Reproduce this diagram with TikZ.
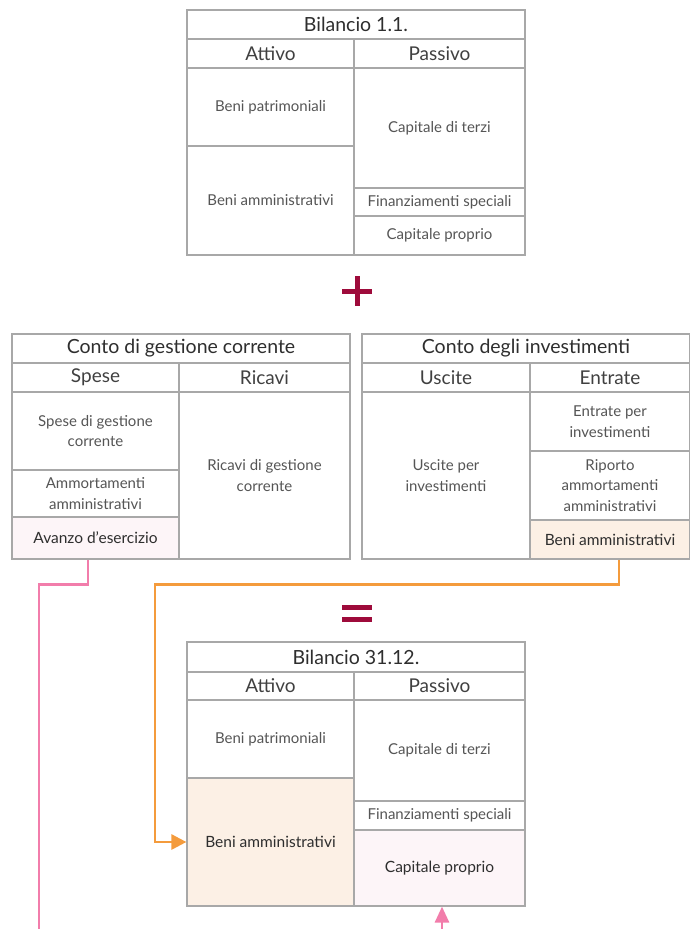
\documentclass[tikz,border=0pt]{standalone}
\usepackage{fontspec}
\setmainfont{Lato}
\usetikzlibrary{arrows.meta}
\definecolor{bordergray}{HTML}{A8A8A8}
\definecolor{txtgray}{HTML}{555555}
\definecolor{txtdark}{HTML}{2E2E2E}
\definecolor{headgray}{HTML}{404040}
\definecolor{pinkfill}{HTML}{FDF5F8}
\definecolor{orangefill}{HTML}{FCF0E5}
\definecolor{pinkline}{HTML}{F27DAB}
\definecolor{orangeline}{HTML}{F49B3C}
\definecolor{crimson}{HTML}{9E0B3B}
\tikzset{
  cell/.style={draw=bordergray, line width=1.2pt, inner sep=0pt, align=center,
    text=txtgray, font=\fontsize{15}{20.5}\selectfont},
  titlecell/.style={cell, text=txtdark, font=\fontsize{19.5}{22}\selectfont},
  headcell/.style={cell, text=headgray, font=\fontsize{19}{22}\selectfont},
  pinkcell/.style={cell, fill=pinkfill, text=txtdark, font=\fontsize{15.5}{20}\selectfont},
  orangecell/.style={cell, fill=orangefill, text=txtdark, font=\fontsize{15.5}{20}\selectfont},
  pinkconn/.style={draw=pinkline, line width=2.8pt},
  orangeconn/.style={draw=orangeline, line width=2.8pt},
  opsign/.style={draw=crimson, line width=5pt}
}
\newcommand\mkcell[7]{%
  \node[#6, minimum width={(#4-#2)*1pt}, minimum height={(#5-#3)*1pt}]
    (#1) at ({(#2+#4)/2},{(#3+#5)/2}) {#7};}
\begin{document}
\begin{tikzpicture}[x=1pt,y=-1pt]
\path[use as bounding box, clip] (0,0) rectangle (690,929);
% Bilancio 1.1.
\mkcell{ta}{187}{10}{525}{39}{titlecell}{Bilancio 1.1.}
\mkcell{tha}{187}{39}{354}{68}{headcell}{Attivo}
\mkcell{thp}{354}{39}{525}{68}{headcell}{Passivo}
\mkcell{tbp}{187}{68}{354}{146}{cell}{Beni patrimoniali}
\mkcell{tba}{187}{146}{354}{255}{cell}{Beni amministrativi}
\mkcell{tct}{354}{68}{525}{188}{cell}{Capitale di terzi}
\mkcell{tfs}{354}{188}{525}{216}{cell}{Finanziamenti speciali}
\mkcell{tcp}{354}{216}{525}{255}{cell}{Capitale proprio}
% plus
\draw[opsign] (342,291) -- (372,291);
\draw[opsign] (357,276) -- (357,306);
% Conto di gestione corrente
\mkcell{ga}{12}{334}{350}{363}{titlecell}{Conto di gestione corrente}
\mkcell{ghs}{12}{363}{179}{392}{headcell}{Spese}
\mkcell{ghr}{179}{363}{350}{392}{headcell}{Ricavi}
\mkcell{gsg}{12}{392}{179}{470}{cell}{Spese di gestione\\corrente}
\mkcell{gam}{12}{470}{179}{517}{cell}{Ammortamenti\\amministrativi}
\mkcell{gav}{12}{517}{179}{559}{pinkcell}{Avanzo d’esercizio}
\mkcell{grg}{179}{392}{350}{559}{cell}{Ricavi di gestione\\corrente}
% Conto degli investimenti
\mkcell{ia}{362}{334}{690}{363}{titlecell}{Conto degli investimenti}
\mkcell{ihu}{362}{363}{530}{392}{headcell}{Uscite}
\mkcell{ihe}{530}{363}{690}{392}{headcell}{Entrate}
\mkcell{iup}{362}{392}{530}{559}{cell}{Uscite per\\investimenti}
\mkcell{iep}{530}{392}{690}{451}{cell}{Entrate per\\investimenti}
\mkcell{ira}{530}{451}{690}{520}{cell}{Riporto\\ammortamenti\\amministrativi}
\mkcell{iba}{530}{520}{690}{559}{orangecell}{Beni amministrativi}
% equals
\draw[opsign] (342,607) -- (372,607);
\draw[opsign] (342,619) -- (372,619);
% Bilancio 31.12.
\mkcell{ba}{187}{642}{525}{672}{titlecell}{Bilancio 31.12.}
\mkcell{bha}{187}{672}{354}{700}{headcell}{Attivo}
\mkcell{bhp}{354}{672}{525}{700}{headcell}{Passivo}
\mkcell{bbp}{187}{700}{354}{778}{cell}{Beni patrimoniali}
\mkcell{bba}{187}{778}{354}{906}{orangecell}{Beni amministrativi}
\mkcell{bct}{354}{700}{525}{801}{cell}{Capitale di terzi}
\mkcell{bfs}{354}{801}{525}{830}{cell}{Finanziamenti speciali}
\mkcell{bcp}{354}{830}{525}{906}{pinkcell}{Capitale proprio}
% connectors
\coordinate (pinkend) at (39,940);
\coordinate (pinkstart) at (442,940);
\draw[pinkconn] ([xshift=-7.5pt]gav.south) -- ++(0,25) -| (pinkend);
\draw[orangeconn, -{Triangle[length=15pt,width=15pt]}]
  ([xshift=9pt]iba.south) -- ++(0,25) -| (155,842) -- (bba.west);
\draw[pinkconn, -{Triangle[length=16pt,width=14pt]}]
  (pinkstart) -- (pinkstart |- bcp.south);
\end{tikzpicture}
\end{document}
